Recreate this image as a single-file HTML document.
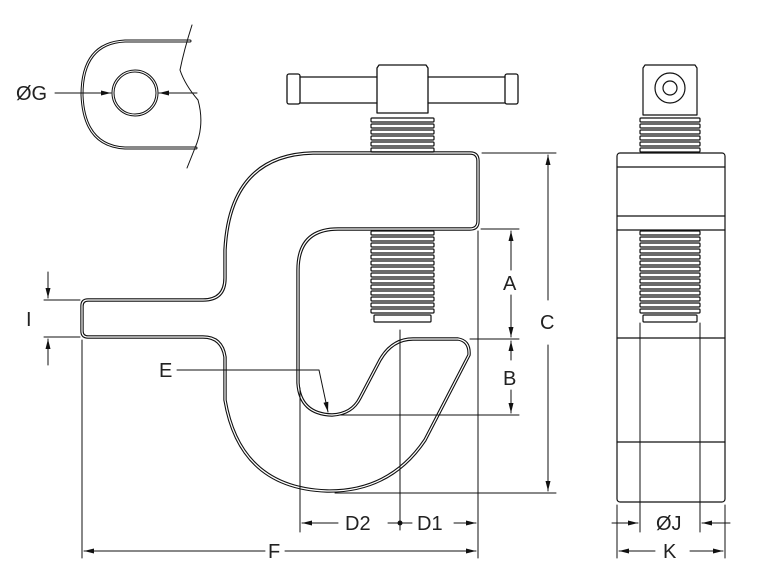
<!DOCTYPE html>
<html><head><meta charset="utf-8"><style>
html,body{margin:0;padding:0;background:#fff;}
svg{display:block;}
text{font-family:"Liberation Sans",sans-serif;font-size:20px;fill:#222;}
</style></head><body>
<svg width="784" height="583" viewBox="0 0 784 583" xmlns="http://www.w3.org/2000/svg">
<defs>
<marker id="ar" viewBox="0 0 10 6" refX="10" refY="3" markerWidth="11" markerHeight="6" orient="auto" markerUnits="userSpaceOnUse"><path d="M0,0.5 L10,3 L0,5.5z" fill="#111"/></marker>
<path id="bp" d="M313,153 L470,153 Q478,153 478,161 L478,221 Q478,229 470,229 L338,229 Q298,229 298,270 L298,383 Q300,414 332,415 Q352,414 360,398 L380,360 Q392,339 413,339 L458,339 Q470,341 469,355 L425,440 Q390,492 327,491 Q240,488 225,400 L225,357 Q222,337 203,337 L88,337 Q82,337 82,331 L82,306 Q82,300 88,300 L203,300 Q225,300 225,278 L225,250 Q230,155 313,153 Z"/>
<path id="tl" d="M190,41 L125,41 Q82,43 82,95 Q84,146 125,148 L196,148"/>
</defs>
<g fill="none" stroke="#111" stroke-linecap="round" stroke-linejoin="round">
<use href="#bp" stroke="#111" stroke-width="3.4"/>
<use href="#bp" stroke="#fff" stroke-width="1.2"/>
<!-- T handle -->
<rect x="287" y="74" width="13" height="30" rx="2" stroke-width="1.3" fill="#fff"/>
<rect x="505" y="74" width="13" height="30" rx="2" stroke-width="1.3" fill="#fff"/>
<path d="M300,77 L377,77 M300,103 L377,103 M428,77 L505,77 M428,103 L505,103" stroke-width="1.3"/>
<path d="M379,65 L426,65 L428,68 L428,113 L377,113 L377,68 Z" stroke-width="1.3"/>
<g stroke-width="1.2">
<rect x="371" y="118" width="63" height="4" rx="1"/>
<rect x="371" y="124" width="63" height="4" rx="1"/>
<rect x="371" y="130" width="63" height="4" rx="1"/>
<rect x="371" y="136" width="63" height="4" rx="1"/>
<rect x="371" y="142" width="63" height="4" rx="1"/>
<rect x="371" y="148" width="63" height="4" rx="1"/>
<rect x="371" y="231" width="63" height="4" rx="1"/>
<rect x="371" y="237" width="63" height="4" rx="1"/>
<rect x="371" y="243" width="63" height="4" rx="1"/>
<rect x="371" y="249" width="63" height="4" rx="1"/>
<rect x="371" y="255" width="63" height="4" rx="1"/>
<rect x="371" y="261" width="63" height="4" rx="1"/>
<rect x="371" y="267" width="63" height="4" rx="1"/>
<rect x="371" y="273" width="63" height="4" rx="1"/>
<rect x="371" y="279" width="63" height="4" rx="1"/>
<rect x="371" y="285" width="63" height="4" rx="1"/>
<rect x="371" y="291" width="63" height="4" rx="1"/>
<rect x="371" y="297" width="63" height="4" rx="1"/>
<rect x="371" y="303" width="63" height="4" rx="1"/>
<rect x="371" y="309" width="63" height="4" rx="1"/>
<rect x="374" y="315" width="57" height="7" rx="1"/>
</g>
<g stroke-width="1">
<path d="M482,153 L556,153 M335,493 L556,493 M481,229 L519,229 M470,339 L519,339 M340,415 L519,415"/>
<path d="M548,300 L548,155" marker-end="url(#ar)"/>
<path d="M548,345 L548,491" marker-end="url(#ar)"/>
<path d="M511,270 L511,231" marker-end="url(#ar)"/>
<path d="M511,295 L511,337" marker-end="url(#ar)"/>
<path d="M511,360 L511,341" marker-end="url(#ar)"/>
<path d="M511,390 L511,413" marker-end="url(#ar)"/>
<path d="M44,300 L80,300 M44,337 L80,337"/>
<path d="M48,272 L48,298" marker-end="url(#ar)"/>
<path d="M48,365 L48,339" marker-end="url(#ar)"/>
<path d="M300,388 L300,532 M400,330 L400,530 M478,231 L478,558 M82,340 L82,558"/>
<path d="M338,523 L302,523" marker-end="url(#ar)"/>
<path d="M388,523 L412,523"/>
<path d="M454,523 L476,523" marker-end="url(#ar)"/>
<path d="M265,551 L84,551" marker-end="url(#ar)"/>
<path d="M285,551 L476,551" marker-end="url(#ar)"/>
<path d="M177,370 L319,370 L328,412" marker-end="url(#ar)"/>
</g>
<circle cx="400" cy="523" r="2.5" fill="#111" stroke="none"/>
<!-- top-left detail -->
<use href="#tl" stroke="#111" stroke-width="3"/>
<use href="#tl" stroke="#fff" stroke-width="1"/>
<path d="M192,25 Q184,50 180,70 Q185,85 198,100 Q205,125 195,148 L187,168" stroke-width="1"/>
<circle cx="135" cy="93" r="22" stroke-width="3"/>
<circle cx="135" cy="93" r="22" stroke="#fff" stroke-width="1"/>
<g stroke-width="1">
<path d="M55,93 L111,93" marker-end="url(#ar)"/>
<path d="M197,93 L159,93" marker-end="url(#ar)"/>
</g>
<!-- side view -->
<g stroke-width="1.2">
<path d="M645,65 L695,65 L697,68 L697,115 L643,115 L643,68 Z"/>
<circle cx="670" cy="88" r="15"/>
<circle cx="670" cy="88" r="7"/>
<rect x="640" y="118" width="60" height="4" rx="1"/>
<rect x="640" y="124" width="60" height="4" rx="1"/>
<rect x="640" y="130" width="60" height="4" rx="1"/>
<rect x="640" y="136" width="60" height="4" rx="1"/>
<rect x="640" y="142" width="60" height="4" rx="1"/>
<rect x="640" y="148" width="60" height="4" rx="1"/>
<rect x="617" y="153" width="108" height="349" rx="3"/>
<path d="M617,167 L725,167 M617,216 L725,216 M617,230 L725,230 M617,338 L725,338 M617,442 L725,442"/>
<rect x="640" y="231" width="60" height="4" rx="1"/>
<rect x="640" y="237" width="60" height="4" rx="1"/>
<rect x="640" y="243" width="60" height="4" rx="1"/>
<rect x="640" y="249" width="60" height="4" rx="1"/>
<rect x="640" y="255" width="60" height="4" rx="1"/>
<rect x="640" y="261" width="60" height="4" rx="1"/>
<rect x="640" y="267" width="60" height="4" rx="1"/>
<rect x="640" y="273" width="60" height="4" rx="1"/>
<rect x="640" y="279" width="60" height="4" rx="1"/>
<rect x="640" y="285" width="60" height="4" rx="1"/>
<rect x="640" y="291" width="60" height="4" rx="1"/>
<rect x="640" y="297" width="60" height="4" rx="1"/>
<rect x="640" y="303" width="60" height="4" rx="1"/>
<rect x="640" y="309" width="60" height="4" rx="1"/>
<rect x="643" y="315" width="54" height="7" rx="1"/>
</g>
<g stroke-width="1">
<path d="M640,323 L640,532 M700,323 L700,532 M617,505 L617,558 M725,505 L725,558"/>
<path d="M612,523 L638,523" marker-end="url(#ar)"/>
<path d="M730,523 L702,523" marker-end="url(#ar)"/>
<path d="M655,551 L619,551" marker-end="url(#ar)"/>
<path d="M690,551 L723,551" marker-end="url(#ar)"/>
</g>
</g>
<text x="503" y="290">A</text>
<text x="503" y="385">B</text>
<text x="540" y="329">C</text>
<text x="26" y="326">I</text>
<text x="159" y="377">E</text>
<text x="345" y="530">D2</text>
<text x="417" y="530">D1</text>
<text x="268" y="558">F</text>
<text x="16" y="100">ØG</text>
<text x="656" y="530">ØJ</text>
<text x="663" y="558">K</text>
</svg>
</body></html>
